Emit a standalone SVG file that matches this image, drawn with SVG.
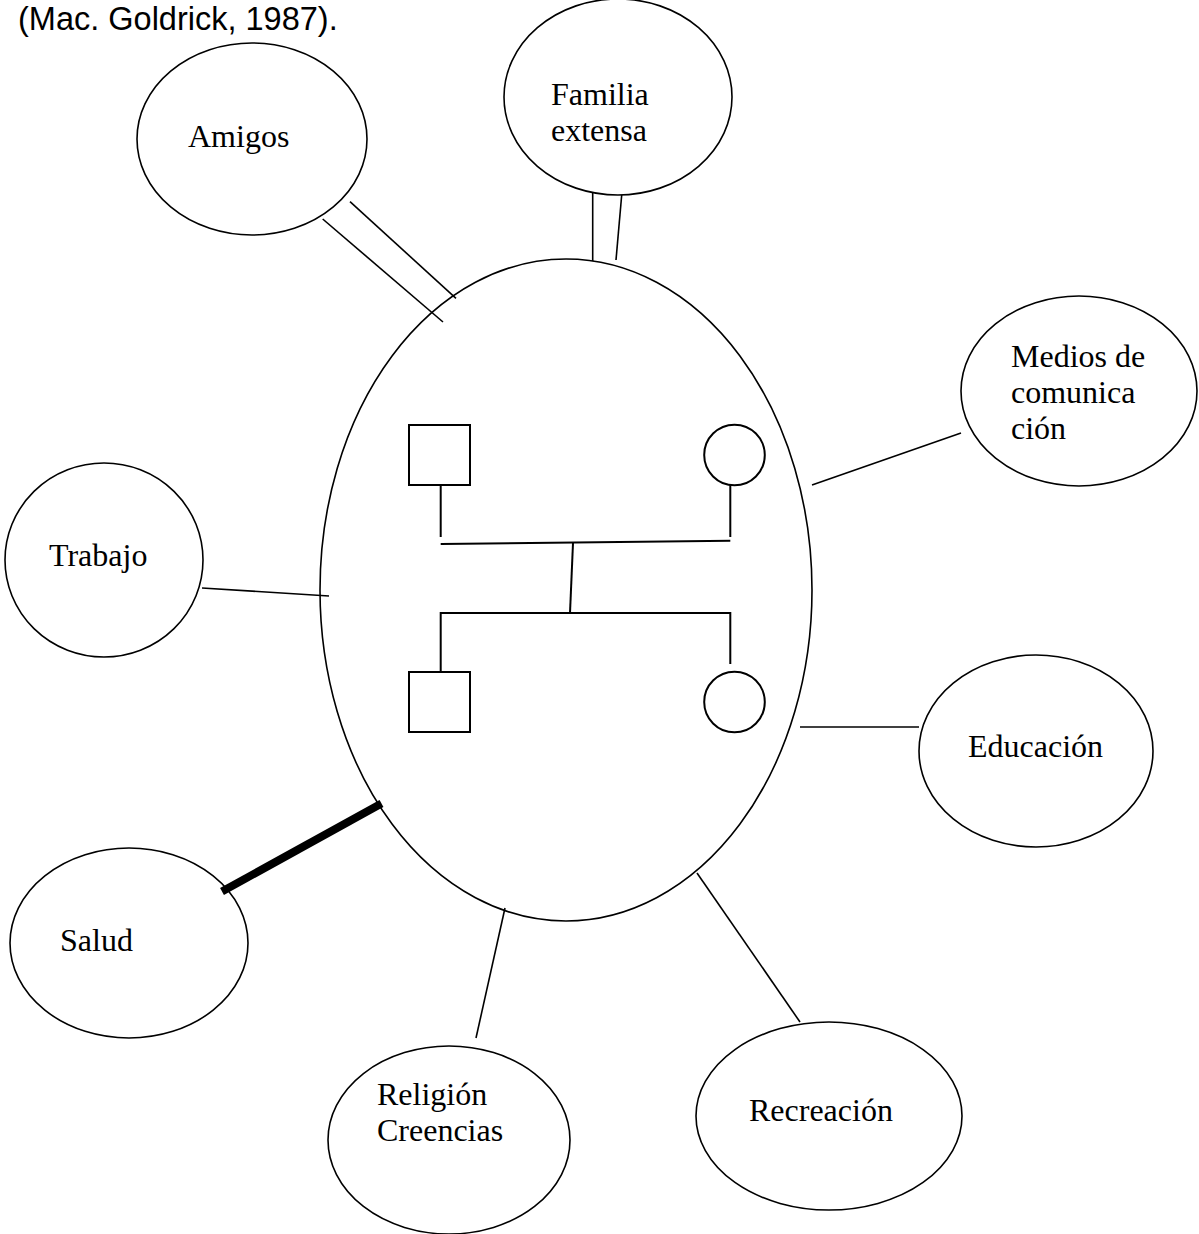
<svg xmlns="http://www.w3.org/2000/svg" width="1199" height="1234" viewBox="0 0 1199 1234">
<style>
.n{fill:none;stroke:#000;stroke-width:1.6}
.g{fill:none;stroke:#000;stroke-width:2}
.c{stroke:#000;stroke-width:1.6;fill:none}
.t{font-family:"Liberation Serif","Times New Roman",serif;font-size:32px;fill:#000}
.h{font-family:"Liberation Sans",Arial,sans-serif;font-size:32.5px;fill:#000}
</style>
<rect width="1199" height="1234" fill="#fff"/>
<text class="h" x="18" y="30">(Mac. Goldrick, 1987).</text>
<g id="familia">
<ellipse class="n" cx="566" cy="590" rx="246" ry="331"/>
<rect class="g" x="409" y="425" width="61" height="60"/>
<circle class="g" cx="734.5" cy="455" r="30.3"/>
<line class="g" x1="440.7" y1="485" x2="440.7" y2="537"/>
<line class="g" x1="730.3" y1="485" x2="730.3" y2="537"/>
<line class="g" x1="440.7" y1="544" x2="730.3" y2="540.7"/>
<line class="g" x1="573" y1="543" x2="570" y2="613"/>
<polyline class="g" points="440.7,671 440.7,613 730.3,613 730.3,664"/>
<rect class="g" x="409" y="672" width="61" height="60"/>
<circle class="g" cx="734.5" cy="702" r="30.3"/>
</g>
<g id="amigos"><ellipse class="n" cx="252" cy="139" rx="115" ry="96"/><text class="t" x="188" y="147">Amigos</text></g>
<g id="familia-extensa"><ellipse class="n" cx="618" cy="97" rx="114" ry="98"/><text class="t" x="551" y="105">Familia</text><text class="t" x="551" y="141">extensa</text></g>
<g id="medios"><ellipse class="n" cx="1079" cy="391" rx="118" ry="95"/><text class="t" x="1011" y="367">Medios de</text><text class="t" x="1011" y="403">comunica</text><text class="t" x="1011" y="439">ción</text></g>
<g id="trabajo"><ellipse class="n" cx="104" cy="560" rx="99" ry="97"/><text class="t" x="49" y="566">Trabajo</text></g>
<g id="educacion"><ellipse class="n" cx="1036" cy="751" rx="117" ry="96"/><text class="t" x="968" y="757">Educación</text></g>
<g id="salud"><ellipse class="n" cx="129" cy="943" rx="119" ry="95"/><text class="t" x="60" y="951">Salud</text></g>
<g id="religion"><ellipse class="n" cx="449" cy="1140" rx="121" ry="94"/><text class="t" x="377" y="1105">Religión</text><text class="t" x="377" y="1141">Creencias</text></g>
<g id="recreacion"><ellipse class="n" cx="829" cy="1116" rx="133" ry="94"/><text class="t" x="749" y="1121">Recreación</text></g>
<g id="connectors">
<line class="c" x1="322.7" y1="219" x2="443" y2="322"/>
<line class="c" x1="350" y1="201.7" x2="456" y2="298.3"/>
<line class="c" x1="592.7" y1="193" x2="592.7" y2="261"/>
<line class="c" x1="621.7" y1="195" x2="616" y2="260"/>
<line class="c" x1="812" y1="485" x2="961" y2="433"/>
<line class="c" x1="202" y1="588" x2="329" y2="596"/>
<line class="c" x1="800" y1="727" x2="919" y2="727"/>
<line x1="222" y1="891.5" x2="381.5" y2="803.5" stroke="#000" stroke-width="8"/>
<line class="c" x1="505" y1="908" x2="476" y2="1038"/>
<line class="c" x1="697" y1="873" x2="800" y2="1022"/>
</g>
</svg>
